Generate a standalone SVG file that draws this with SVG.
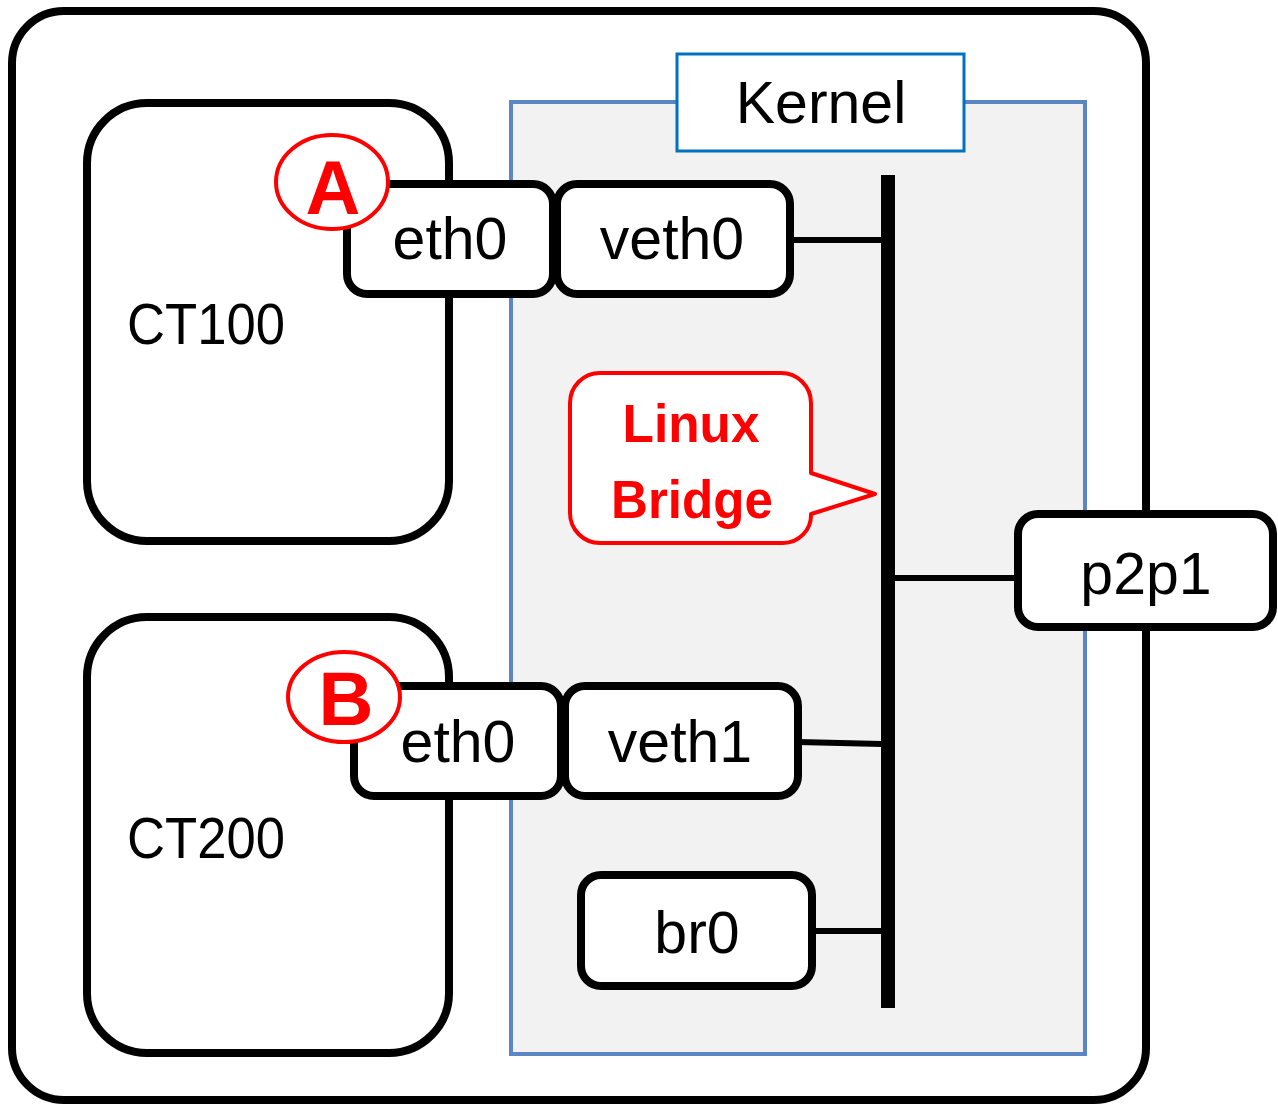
<svg xmlns="http://www.w3.org/2000/svg" width="1278" height="1110" viewBox="0 0 1278 1110">
  <style>
    .box { fill: #ffffff; stroke: #000000; stroke-width: 8; }
    .lbl { font-family: "Liberation Sans", Arial, sans-serif; font-size: 59px; fill: #000000; text-anchor: middle; }
    .ct { font-family: "Liberation Sans", Arial, sans-serif; font-size: 58px; fill: #000000; }
    .link { stroke: #000000; stroke-width: 6; fill: none; }
    .mark { fill: #ffffff; stroke: #ff0000; stroke-width: 4; }
    .markText { font-family: "Liberation Sans", Arial, sans-serif; font-weight: bold; font-size: 76px; fill: #ff0000; text-anchor: middle; }
    .callText { font-family: "Liberation Sans", Arial, sans-serif; font-weight: bold; font-size: 54px; fill: #ff0000; text-anchor: middle; }
  </style>

  <!-- host -->
  <g id="host">
    <rect x="12" y="11" width="1134" height="1089" rx="52" ry="52" class="box"/>
  </g>

  <!-- containers -->
  <g id="ct100">
    <rect x="87" y="103" width="362" height="438" rx="60" ry="60" class="box"/>
    <text x="127" y="344" class="ct" textLength="158" lengthAdjust="spacingAndGlyphs">CT100</text>
  </g>
  <g id="ct200">
    <rect x="87" y="617" width="362" height="436" rx="60" ry="60" class="box"/>
    <text x="127" y="858" class="ct" textLength="158" lengthAdjust="spacingAndGlyphs">CT200</text>
  </g>

  <!-- kernel area -->
  <g id="kernel">
    <rect x="511" y="102" width="574" height="952" fill="#f2f2f2" stroke="#5a87c4" stroke-width="4"/>
    <rect x="677" y="54" width="287" height="97" fill="#ffffff" stroke="#0070c0" stroke-width="3"/>
    <text x="821" y="123" class="lbl" font-size="56">Kernel</text>
  </g>

  <!-- connectors -->
  <g id="connectors">
    <line x1="888" y1="175" x2="888" y2="1008" stroke="#000000" stroke-width="14"/>
    <line x1="789" y1="240" x2="882" y2="240" class="link"/>
    <line x1="798" y1="742" x2="882" y2="744" class="link"/>
    <line x1="812" y1="931" x2="882" y2="931" class="link"/>
    <line x1="895" y1="578" x2="1018" y2="578" class="link"/>
  </g>

  <!-- interfaces -->
  <g id="eth0-ct100">
    <rect x="347" y="184" width="206" height="110" rx="20" ry="20" class="box"/>
    <text x="450" y="259" class="lbl">eth0</text>
  </g>
  <g id="veth0">
    <rect x="557" y="184" width="233" height="110" rx="20" ry="20" class="box"/>
    <text x="672" y="259" class="lbl">veth0</text>
  </g>
  <g id="eth0-ct200">
    <rect x="354" y="686" width="207" height="110" rx="20" ry="20" class="box"/>
    <text x="458" y="762" class="lbl">eth0</text>
  </g>
  <g id="veth1">
    <rect x="565" y="686" width="233" height="110" rx="20" ry="20" class="box"/>
    <text x="680" y="762" class="lbl">veth1</text>
  </g>
  <g id="br0">
    <rect x="581" y="875" width="231" height="111" rx="20" ry="20" class="box"/>
    <text x="697" y="953" class="lbl">br0</text>
  </g>
  <g id="p2p1">
    <rect x="1018" y="514" width="255" height="113" rx="20" ry="20" class="box"/>
    <text x="1146" y="594" class="lbl" font-size="57">p2p1</text>
  </g>

  <!-- markers A / B -->
  <g id="mark-a">
    <ellipse cx="332" cy="182" rx="56" ry="47" class="mark"/>
    <text x="333" y="214" class="markText">A</text>
  </g>
  <g id="mark-b">
    <ellipse cx="344" cy="697" rx="56" ry="45" class="mark"/>
    <text x="346" y="725" class="markText">B</text>
  </g>

  <!-- bridge callout -->
  <g id="bridge-callout">
    <path d="M600 373 H781 A30 30 0 0 1 811 403 V473 L875 494 L811 514 V514 A28 28 0 0 1 783 543 H600 A30 30 0 0 1 570 513 V403 A30 30 0 0 1 600 373 Z" fill="#ffffff" stroke="#ff0000" stroke-width="4" stroke-linejoin="round"/>
    <text x="691" y="442" class="callText" textLength="137" lengthAdjust="spacingAndGlyphs">Linux</text>
    <text x="692" y="518" class="callText" textLength="162" lengthAdjust="spacingAndGlyphs">Bridge</text>
  </g>
</svg>
